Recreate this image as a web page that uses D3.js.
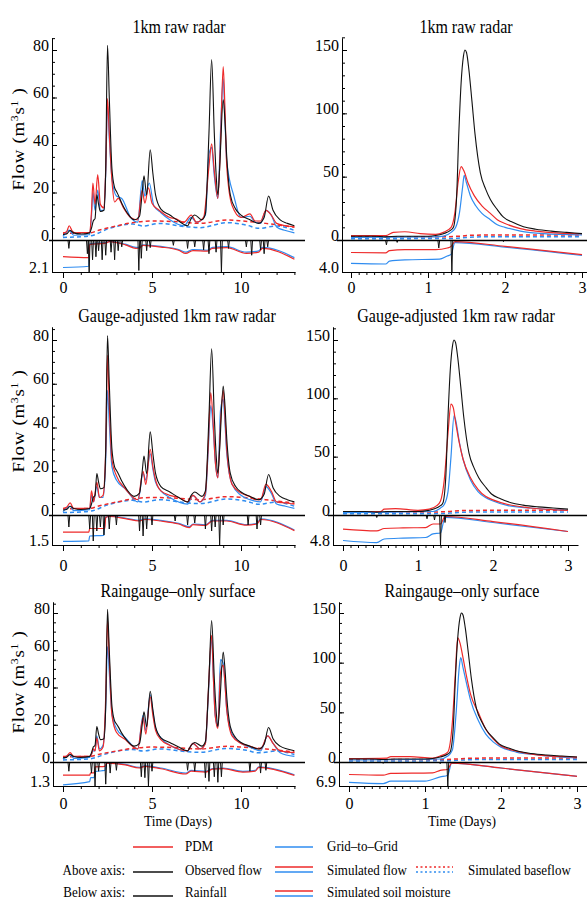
<!DOCTYPE html>
<html>
<head>
<meta charset="utf-8">
<script src="https://cdnjs.cloudflare.com/ajax/libs/d3/7.8.5/d3.min.js"></script>
<style>
  body { margin: 0; background: #fff; }
  svg { display: block; }
  text { font-family: "Liberation Serif", "Times New Roman", serif; fill: #000; }
</style>
</head>
<body>
<div id="chart"></div>
<script>
// ---- data: [time in days, value] ----
// observed flow (same gauge for every row)
const obsLeft = [[0,2.3],[0.2,2.5],[0.4,4],[0.6,3],[1.0,2.5],[1.5,3],[1.6,5],[1.7,8],[1.8,9],[1.9,19],[2.0,15],[2.1,12],[2.3,12.5],[2.4,30],[2.5,82],[2.6,60],[2.75,30],[2.9,22],[3.0,20.5],[3.1,19],[3.3,15.5],[3.6,11.5],[4.0,8.5],[4.3,10],[4.45,20],[4.55,27],[4.7,19],[4.9,38],[5.05,28],[5.2,19],[5.5,13],[6.0,10.5],[6.5,8],[7.0,6],[7.2,9],[7.4,10.5],[7.8,8.5],[8.0,11],[8.2,45],[8.35,76],[8.5,45],[8.6,28],[8.7,19],[8.8,30],[9.0,59],[9.1,50],[9.2,35],[9.4,19],[9.7,13],[10.0,10.5],[10.5,8.5],[11.0,7],[11.3,9.5],[11.55,18.5],[11.8,12.5],[12.2,8.5],[12.6,7],[13.0,6]];
const obsRight = [[0,3],[0.3,3],[0.45,2.5],[0.6,3],[1.0,3],[1.1,3.5],[1.2,5],[1.3,8],[1.33,10],[1.37,32],[1.4,84],[1.43,124],[1.46,145],[1.48,150],[1.5,148],[1.53,135],[1.57,110],[1.61,84],[1.68,53],[1.75,40],[1.81,32],[1.9,24],[1.98,18],[2.1,14],[2.24,10.5],[2.4,8.5],[2.6,7],[2.8,6],[3.0,5]];

// simulated baseflow
const pdmBaseLeft = [[0,2.8],[1.5,3],[2.05,4.2],[3.0,5.9],[3.9,7.3],[5.0,8],[6.4,7.7],[7.7,7],[9.2,8.4],[10.1,8],[11.4,7],[13,5.4]];
const g2gBaseLeft = [[0,1.1],[1.5,1.7],[2.6,4.9],[3.9,6.7],[4.5,5.9],[5.4,7],[6.9,5.6],[7.7,5.2],[9.2,7.3],[10.3,6.3],[11.0,4.9],[12.0,5.9],[13,4]];
const pdmBaseRight = [[0,2.5],[1.2,2.5],[1.4,3],[1.6,3.8],[2.0,4],[3.0,4]];
const g2gBaseRight = [[0,1],[1.3,1.2],[1.5,2],[1.7,2.5],[2.0,2.5],[3.0,2.5]];

// row 1: 1km raw radar
const pdmFlowL1 = [[0,3],[0.2,3.5],[0.35,6],[0.5,4],[0.7,3],[1.5,3.2],[1.6,12],[1.68,24],[1.8,15],[1.95,27.5],[2.1,15],[2.3,13.5],[2.4,30],[2.5,59.5],[2.6,45],[2.75,25],[2.9,16],[3.1,17.5],[3.4,13.5],[3.8,9.5],[4.2,8.5],[4.45,21],[4.6,15.5],[4.8,22],[5.0,15.5],[5.4,12.5],[6.0,9.5],[6.3,9],[6.8,7.5],[7.2,10.5],[7.5,7.5],[7.9,9.5],[8.2,31],[8.35,40.5],[8.5,29],[8.7,17.5],[8.85,41],[9.0,73],[9.1,55],[9.2,31],[9.5,14.5],[10.0,9.5],[10.5,11],[10.8,8],[11.1,8],[11.4,12.5],[11.7,10.5],[12.0,7],[12.5,6],[13.0,5.5]];
const g2gFlowL1 = [[0,1.5],[0.35,4.2],[0.6,2],[1.5,2.2],[1.6,10],[1.68,20],[1.8,12.5],[1.95,21],[2.1,12.5],[2.3,12.5],[2.4,28],[2.5,57],[2.6,43],[2.75,26],[3.0,18.5],[3.3,17.5],[3.8,9.5],[4.2,7.5],[4.45,25],[4.6,18.5],[4.85,24],[5.1,14.5],[5.5,11.5],[6.0,8.5],[6.8,6],[7.2,9.5],[7.5,7.5],[8.0,10.5],[8.2,36],[8.35,39],[8.5,27],[8.7,17.5],[8.85,46],[9.0,68],[9.1,50],[9.2,33],[9.6,18.5],[10.0,9.5],[10.5,10],[10.8,7.5],[11.1,7],[11.4,12.5],[11.7,10.5],[12.0,5.5],[12.5,4],[13.0,3]];
const pdmSoilL1 = [[0,0.52],[1.45,0.55],[1.5,0.14],[2.4,0.1],[2.6,0.05],[3.5,0.15],[4.1,0.26],[4.3,0.25],[4.5,0.17],[5.5,0.22],[6.5,0.32],[6.9,0.42],[7.3,0.33],[8.1,0.35],[8.4,0.26],[9.2,0.24],[10.3,0.42],[11.0,0.38],[11.2,0.26],[13,0.6]];
const g2gSoilL1 = [[0,0.86],[1.45,0.82],[1.5,0.12],[2.4,0.08],[2.6,0.04],[3.5,0.13],[4.1,0.23],[4.3,0.22],[4.5,0.15],[5.5,0.2],[6.5,0.3],[6.9,0.38],[7.3,0.3],[8.1,0.32],[8.4,0.23],[9.2,0.21],[10.3,0.38],[11.0,0.34],[11.2,0.23],[13,0.55]];
const rainL1 = [[0.33,0.55],[1.37,0.9],[1.47,2.1],[1.66,1.3],[1.85,1.1],[2.0,0.7],[2.2,1.3],[2.4,1.0],[2.7,0.8],[2.9,1.3],[3.1,0.7],[3.3,0.45],[4.26,2.0],[4.4,1.2],[4.7,0.7],[4.9,0.5],[6.2,0.35],[7.0,0.55],[7.4,0.45],[7.9,0.65],[8.2,0.9],[8.6,0.8],[8.9,2.1],[9.3,0.55],[10.3,0.45],[10.6,1.0],[11.1,0.65],[11.3,0.9],[11.5,0.45]];

const pdmFlowR1 = [[0,3.5],[0.45,3.5],[0.55,6],[0.7,6.5],[0.9,5],[1.1,4.5],[1.2,6],[1.3,10],[1.35,22],[1.39,45],[1.43,58],[1.47,54],[1.52,45],[1.6,35],[1.7,27],[1.81,21],[1.9,16],[2.0,13],[2.2,9],[2.4,7],[2.7,5.5],[3.0,5]];
const g2gFlowR1 = [[0,2],[1.1,2.5],[1.2,3],[1.3,6],[1.36,10],[1.41,22],[1.45,42],[1.47,51],[1.5,45],[1.55,35],[1.62,27],[1.7,21],[1.81,16],[1.9,12],[2.0,10],[2.2,7],[2.5,5],[3.0,4]];
const pdmSoilR1 = [[0,0.39],[0.45,0.4],[0.5,0.33],[0.7,0.3],[1.1,0.3],[1.25,0.25],[1.3,0.2],[1.35,0.05],[2.0,0.2],[3.0,0.46]];
const g2gSoilR1 = [[0,0.73],[0.45,0.75],[0.5,0.66],[0.7,0.62],[1.15,0.6],[1.25,0.5],[1.3,0.45],[1.35,0.08],[2.0,0.22],[3.0,0.48]];
const rainR1 = [[0.46,0.6],[0.6,0.3],[1.14,1.0],[1.31,4.0],[1.98,0.2]];

// row 2: gauge-adjusted 1km raw radar
const pdmFlowL2 = [[0,3],[0.2,3.5],[0.4,5.5],[0.6,3],[1.5,3],[1.6,11],[1.72,6],[1.9,15],[2.05,8],[2.25,9],[2.4,30],[2.5,73],[2.6,50],[2.75,25],[3.0,18],[3.5,12],[4.2,7],[4.5,20],[4.65,14],[4.9,30],[5.05,22],[5.2,16],[5.5,11],[6.0,9],[6.5,8],[7.0,6],[7.3,9],[7.7,6],[8.0,10],[8.15,30],[8.3,56],[8.45,40],[8.55,25],[8.7,17],[8.85,42],[9.0,57],[9.1,45],[9.2,30],[9.5,14],[10.0,10],[10.5,8.5],[10.8,7],[11.1,7],[11.4,14],[11.7,11],[12.0,6],[12.5,5.5],[13.0,5]];
const g2gFlowL2 = [[0,1.5],[0.4,4],[0.6,2],[1.5,2.5],[1.6,9],[1.72,6],[1.9,13],[2.05,8],[2.25,8],[2.4,25],[2.5,57],[2.6,42],[2.75,22],[3.0,16],[3.5,12],[4.2,6],[4.5,19],[4.65,16],[4.9,28],[5.05,21],[5.2,15],[5.5,11],[6.0,8],[7.0,5],[7.3,9],[7.7,6],[8.0,9],[8.15,28],[8.3,50],[8.45,38],[8.55,25],[8.7,17],[8.85,48],[9.0,53],[9.1,42],[9.2,28],[9.5,14],[10.0,9],[10.5,7],[11.1,6],[11.4,13],[11.7,10],[12.0,5],[12.5,4],[13.0,3]];
const pdmSoilL2 = [[0,0.57],[1.45,0.57],[1.5,0.45],[2.35,0.45],[2.4,0.08],[2.6,0.05],[3.5,0.12],[4.3,0.2],[4.6,0.15],[5.5,0.2],[6.5,0.3],[7.1,0.42],[7.3,0.32],[8.0,0.35],[8.4,0.2],[9.2,0.2],[10.3,0.34],[10.9,0.3],[11.1,0.15],[13,0.52]];
const g2gSoilL2 = [[0,0.88],[1.45,0.86],[1.5,0.7],[2.3,0.68],[2.35,0.1],[2.6,0.04],[3.5,0.1],[4.3,0.18],[4.6,0.13],[5.5,0.18],[6.5,0.28],[7.1,0.39],[7.3,0.3],[8.0,0.33],[8.4,0.18],[9.2,0.18],[10.3,0.32],[10.9,0.28],[11.1,0.13],[13,0.5]];
const rainL2 = [[0.33,0.6],[1.5,0.7],[1.7,1.3],[1.9,0.8],[2.1,0.6],[2.3,1.0],[2.6,0.7],[3.0,0.5],[4.3,0.8],[4.5,1.05],[4.7,0.7],[5.0,0.5],[6.3,0.3],[7.0,0.5],[7.4,0.4],[8.0,0.7],[8.35,0.8],[8.55,0.6],[8.8,1.5],[9.0,0.5],[10.4,0.5],[10.9,0.7],[11.1,0.5]];

const pdmFlowR2 = [[0,3],[0.5,3],[0.55,5],[0.7,5.5],[1.0,4],[1.15,5],[1.25,8],[1.3,12],[1.35,30],[1.4,70],[1.44,95],[1.47,92],[1.5,80],[1.55,62],[1.6,48],[1.7,32],[1.8,22],[1.9,16],[2.0,13],[2.2,9],[2.5,6],[3.0,4]];
const g2gFlowR2 = [[0,2],[1.2,3],[1.3,6],[1.35,9],[1.4,20],[1.44,50],[1.48,85],[1.5,82],[1.55,63],[1.6,48],[1.7,30],[1.8,20],[1.9,15],[2.0,12],[2.2,8],[2.5,6],[3.0,4]];
const pdmSoilR2 = [[0,0.47],[0.45,0.53],[0.55,0.45],[0.8,0.43],[1.1,0.42],[1.2,0.3],[1.3,0.3],[1.36,0.05],[2.0,0.22],[3.0,0.55]];
const g2gSoilR2 = [[0,0.85],[0.45,0.92],[0.55,0.8],[0.8,0.77],[1.1,0.75],[1.2,0.63],[1.3,0.6],[1.36,0.08],[2.0,0.25],[3.0,0.55]];
const rainR2 = [[0.45,0.4],[1.12,0.6],[1.22,0.8],[1.3,4.8],[1.36,1.2]];

// row 3: raingauge-only surface
const pdmFlowL3 = [[0,3],[0.2,3.2],[0.4,5],[0.6,3],[1.5,3],[1.6,4],[1.7,7],[1.8,6],[1.9,13],[2.05,6],[2.25,8],[2.4,35],[2.5,76],[2.6,55],[2.75,25],[3.0,16],[3.5,12],[4.2,7],[4.5,24],[4.65,15],[4.9,35],[5.05,25],[5.2,17],[5.5,12],[6.0,9],[7.0,6],[7.3,10],[7.7,7],[8.0,10],[8.15,35],[8.35,68],[8.45,45],[8.55,25],[8.7,18],[8.85,48],[9.0,52],[9.1,42],[9.2,28],[9.5,14],[10.0,10],[10.5,8.5],[11.1,7],[11.5,14],[11.8,10],[12.2,6],[13,5]];
const g2gFlowL3 = [[0,1.5],[0.4,4],[0.6,2],[1.5,2.5],[1.7,6],[1.8,6],[1.9,14],[2.05,7],[2.25,9],[2.4,30],[2.5,62],[2.6,48],[2.75,26],[3.0,18],[3.5,13],[4.2,7],[4.5,25],[4.65,17],[4.9,36],[5.05,27],[5.2,18],[5.5,13],[6.0,9],[7.0,6],[7.3,10],[7.7,7],[8.0,10],[8.15,33],[8.35,66],[8.45,45],[8.55,25],[8.7,19],[8.85,55],[9.0,53],[9.1,42],[9.2,28],[9.5,15],[10.0,10],[10.5,8],[11.1,6],[11.5,14],[11.8,10],[12.2,5],[13,3]];
const pdmSoilL3 = [[0,0.55],[1.5,0.55],[1.55,0.45],[1.75,0.45],[1.8,0.2],[2.35,0.18],[2.45,0.05],[3.5,0.12],[4.3,0.25],[4.6,0.18],[5.5,0.28],[6.9,0.5],[7.2,0.38],[8.0,0.42],[8.4,0.3],[9.0,0.28],[10.1,0.42],[10.8,0.38],[11.0,0.22],[13,0.56]];
const g2gSoilL3 = [[0,0.95],[1.5,0.82],[1.55,0.65],[1.75,0.65],[1.8,0.4],[2.35,0.35],[2.45,0.04],[3.5,0.1],[4.3,0.22],[4.6,0.16],[5.5,0.25],[6.9,0.46],[7.2,0.35],[8.0,0.39],[8.4,0.27],[9.0,0.25],[10.1,0.39],[10.8,0.35],[11.0,0.2],[13,0.53]];
const rainL3 = [[0.33,0.5],[1.6,0.6],[1.8,1.3],[2.0,0.5],[2.4,1.2],[2.65,0.6],[3.0,0.45],[4.4,0.8],[4.6,0.85],[4.8,1.3],[5.0,0.5],[7.0,0.45],[7.4,0.5],[8.0,0.85],[8.2,1.05],[8.5,0.8],[8.7,1.1],[8.9,0.8],[10.5,0.5],[11.1,0.6],[11.4,0.45]];

const pdmFlowR3 = [[0,3.5],[0.5,4],[0.55,5.5],[0.8,5.5],[1.1,4],[1.2,6],[1.3,10],[1.36,40],[1.4,90],[1.43,125],[1.46,120],[1.5,105],[1.55,85],[1.6,68],[1.7,50],[1.8,33],[1.9,23],[2.0,16],[2.2,11],[2.5,7],[3.0,5]];
const g2gFlowR3 = [[0,2],[1.2,3],[1.3,6],[1.36,12],[1.41,50],[1.45,95],[1.47,105],[1.5,95],[1.55,78],[1.6,62],[1.7,42],[1.8,28],[1.9,20],[2.0,15],[2.2,10],[2.5,7],[3.0,4]];
const pdmSoilR3 = [[0,0.52],[0.45,0.55],[0.55,0.47],[1.1,0.45],[1.2,0.35],[1.3,0.3],[1.35,0.05],[2.0,0.25],[3.0,0.6]];
const g2gSoilR3 = [[0,0.85],[0.45,0.9],[0.55,0.8],[1.0,0.8],[1.2,0.62],[1.3,0.55],[1.35,0.05],[2.0,0.25],[3.0,0.6]];
const rainR3 = [[0.45,0.4],[1.2,0.5],[1.3,6.9]];

// tick labels
const titles = ["1km raw radar", "Gauge-adjusted 1km raw radar", "Raingauge\u2013only surface"];
const leftFlowTicks = [0, 20, 40, 60, 80];
const rightFlowTicks = [0, 50, 100, 150];
const leftDayTicks = [0, 5, 10];
const rightDayTicks = [0, 1, 2, 3];
const rainMaxima = [2.1, 4.0, 1.5, 4.8, 1.3, 6.9];
const rainLabels = ["2.1", "4.0", "1.5", "4.8", "1.3", "6.9"];

const red = "#ee2a2a", blue = "#2f8cf0";

const svg = d3.select("#chart").append("svg")
  .attr("width", 587).attr("height", 901);

// text with a slight vertical stretch like the original scan
function label(g, x, y, str, size, anchor, sy) {
  return g.append("text")
    .attr("transform", `translate(${x},${y}) scale(1,${sy})`)
    .attr("text-anchor", anchor)
    .style("font-size", size + "px")
    .text(str);
}

// row geometry (pixels)
const rows = [
  { zero: 240, top: 38, refPx: 50, bottom: 272, tickOff: 15.5, titleY: 33 },
  { zero: 515, top: 327, refPx: 340, bottom: 545, tickOff: 20, titleY: 322 },
  { zero: 762, top: 602, refPx: 613, bottom: 786, tickOff: 17.5, titleY: 597 }
];
const leftCols = [
  { axisX: 52, x0: 63, xRef: 241, endX: 295, titleX: 179 },
  { axisX: 52, x0: 63, xRef: 241, endX: 295, titleX: 177 },
  { axisX: 53, x0: 63, xRef: 241, endX: 295, titleX: 178 }
];
const rightCols = [
  { axisX: 342, x0: 351, xRef: 582, endX: 587, titleX: 466 },
  { axisX: 333, x0: 343, xRef: 568, endX: 578, titleX: 456 },
  { axisX: 339, x0: 349, xRef: 577, endX: 587, titleX: 462 }
];

const panels = [
  { r: 0, c: leftCols[0], left: true, obs: obsLeft, pdm: pdmFlowL1, g2g: g2gFlowL1, pdmB: pdmBaseLeft, g2gB: g2gBaseLeft, pdmS: pdmSoilL1, g2gS: g2gSoilL1, rain: rainL1, k: 0 },
  { r: 0, c: rightCols[0], left: false, obs: obsRight, pdm: pdmFlowR1, g2g: g2gFlowR1, pdmB: pdmBaseRight, g2gB: g2gBaseRight, pdmS: pdmSoilR1, g2gS: g2gSoilR1, rain: rainR1, k: 1 },
  { r: 1, c: leftCols[1], left: true, obs: obsLeft, pdm: pdmFlowL2, g2g: g2gFlowL2, pdmB: pdmBaseLeft, g2gB: g2gBaseLeft, pdmS: pdmSoilL2, g2gS: g2gSoilL2, rain: rainL2, k: 2 },
  { r: 1, c: rightCols[1], left: false, obs: obsRight, pdm: pdmFlowR2, g2g: g2gFlowR2, pdmB: pdmBaseRight, g2gB: g2gBaseRight, pdmS: pdmSoilR2, g2gS: g2gSoilR2, rain: rainR2, k: 3 },
  { r: 2, c: leftCols[2], left: true, obs: obsLeft, pdm: pdmFlowL3, g2g: g2gFlowL3, pdmB: pdmBaseLeft, g2gB: g2gBaseLeft, pdmS: pdmSoilL3, g2gS: g2gSoilL3, rain: rainL3, k: 4 },
  { r: 2, c: rightCols[2], left: false, obs: obsRight, pdm: pdmFlowR3, g2g: g2gFlowR3, pdmB: pdmBaseRight, g2gB: g2gBaseRight, pdmS: pdmSoilR3, g2gS: g2gSoilR3, rain: rainR3, k: 5 }
];

panels.forEach(p => drawPanel(p));

function drawPanel(p) {
  const row = rows[p.r], col = p.c;
  const g = svg.append("g");

  // x: days
  const x = d3.scaleLinear().domain([0, p.left ? 10 : 3]).range([col.x0, col.xRef]);
  x.domain([x.invert(col.axisX), x.invert(col.endX)]).range([col.axisX, col.endX]);

  // y: flow above the zero line
  const y = d3.scaleLinear().domain([0, p.left ? 80 : 150]).range([row.zero, row.refPx]);
  y.domain([0, y.invert(row.top)]).range([row.zero, row.top]);

  // below the zero line: rainfall and soil moisture (as fraction of depth)
  const yr = d3.scaleLinear().domain([0, rainMaxima[p.k]]).range([row.zero, row.bottom]);
  const ysm = d3.scaleLinear().domain([0, 1]).range([row.zero, row.bottom]);

  const clipUp = "cu" + p.k, clipDn = "cd" + p.k;
  svg.append("clipPath").attr("id", clipUp).append("rect")
    .attr("x", col.axisX).attr("y", row.top - 4).attr("width", col.endX - col.axisX).attr("height", row.zero - row.top + 4);
  svg.append("clipPath").attr("id", clipDn).append("rect")
    .attr("x", col.axisX).attr("y", row.zero).attr("width", col.endX - col.axisX).attr("height", row.bottom - row.zero);

  const flowLine = d3.line().x(d => x(d[0])).y(d => y(d[1])).curve(d3.curveMonotoneX);
  const soilLine = d3.line().x(d => x(d[0])).y(d => ysm(d[1])).curve(d3.curveMonotoneX);

  const up = g.append("g").attr("clip-path", `url(#${clipUp})`);
  up.append("path").datum(p.g2gB).attr("d", flowLine).attr("fill", "none")
    .attr("stroke", blue).attr("stroke-width", 1.5).attr("stroke-dasharray", "4,3");
  up.append("path").datum(p.pdmB).attr("d", flowLine).attr("fill", "none")
    .attr("stroke", red).attr("stroke-width", 1.5).attr("stroke-dasharray", "4,3");
  up.append("path").datum(p.g2g).attr("d", flowLine).attr("fill", "none")
    .attr("stroke", blue).attr("stroke-width", 1.2);
  up.append("path").datum(p.pdm).attr("d", flowLine).attr("fill", "none")
    .attr("stroke", red).attr("stroke-width", 1.2);
  up.append("path").datum(p.obs).attr("d", flowLine).attr("fill", "none")
    .attr("stroke", "#111").attr("stroke-width", 1.1);

  const dn = g.append("g").attr("clip-path", `url(#${clipDn})`);
  dn.append("path").datum(p.g2gS).attr("d", soilLine).attr("fill", "none")
    .attr("stroke", blue).attr("stroke-width", 1.2);
  dn.append("path").datum(p.pdmS).attr("d", soilLine).attr("fill", "none")
    .attr("stroke", red).attr("stroke-width", 1.2);
  // rainfall hangs down from the zero line as narrow spikes
  const w = p.left ? 0.05 : 0.012;
  dn.selectAll("path.rain").data(p.rain).join("path").attr("class", "rain")
    .attr("d", d => `M${x(d[0] - w)},${row.zero}L${x(d[0])},${yr(d[1])}L${x(d[0] + w)},${row.zero}`)
    .attr("fill", "none").attr("stroke", "#111").attr("stroke-width", 1);

  // zero line
  g.append("line")
    .attr("x1", col.axisX - (p.left ? 3 : 5)).attr("x2", p.left ? 305 : 587)
    .attr("y1", row.zero + 0.5).attr("y2", row.zero + 0.5)
    .attr("stroke", "#000").attr("stroke-width", 1.3);

  // y axes
  const minorY = p.left ? d3.range(0, 86, 5) : d3.range(0, 161, 10);
  g.append("g").attr("transform", `translate(${col.axisX},0)`)
    .call(d3.axisLeft(y).tickValues(minorY).tickSize(-3).tickSizeOuter(0).tickFormat(""));
  const ay = g.append("g").attr("transform", `translate(${col.axisX},0)`)
    .call(d3.axisLeft(y).tickValues(p.left ? leftFlowTicks : rightFlowTicks).tickSize(-5).tickSizeOuter(0).tickPadding(3).tickFormat(d3.format("d")));
  const ar = g.append("g").attr("transform", `translate(${col.axisX},0)`)
    .call(d3.axisLeft(yr).tickValues([rainMaxima[p.k]]).tickFormat(() => rainLabels[p.k]).tickSize(-5).tickSizeOuter(0).tickPadding(3));
  [ay, ar].forEach(a => a.selectAll("text").attr("dy", null)
    .style("font-size", "16px").style("font-family", '"Liberation Serif", serif'));

  // x axis at the bottom of the rainfall strip
  const minorX = p.left ? d3.range(0, 14, 1) : d3.range(0, 31, 1).map(v => v / 10);
  g.append("g").attr("transform", `translate(0,${row.bottom})`)
    .call(d3.axisBottom(x).tickValues(minorX).tickSize(3).tickSizeOuter(0).tickFormat(""));
  g.append("g").attr("transform", `translate(0,${row.bottom})`)
    .call(d3.axisBottom(x).tickValues(p.left ? leftDayTicks : rightDayTicks).tickSize(6).tickSizeOuter(0).tickFormat(d3.format("d")))
    .call(a => a.select(".domain").remove())
    .selectAll("text").attr("y", row.tickOff + 5.5).attr("dy", null)
    .style("font-size", "16px").style("font-family", '"Liberation Serif", serif');

  // title
  label(g, col.titleX, row.titleY, titles[p.r], 16, "middle", 1.12);

  if (p.left) {
    const cy = (row.top + row.zero) / 2;
    const t = g.append("text")
      .attr("transform", `translate(24,${cy}) rotate(-90) scale(1.18,1)`)
      .attr("text-anchor", "middle").style("font-size", "16px").style("letter-spacing", "0.6px");
    t.append("tspan").text("Flow (m");
    t.append("tspan").attr("dy", -6).style("font-size", "10px").text("3");
    t.append("tspan").attr("dy", 6).text("s");
    t.append("tspan").attr("dy", -6).style("font-size", "10px").text("1");
    t.append("tspan").attr("dy", 6).text(" )");
  }
  if (p.r === 2) {
    label(g, col.titleX, 826, "Time (Days)", 13.5, "middle", 1.12);
  }
}

// ---- legend ----
const lg = svg.append("g");
function legLine(x1, x2, yy, color, dash) {
  lg.append("line").attr("x1", x1).attr("x2", x2).attr("y1", yy).attr("y2", yy)
    .attr("stroke", color).attr("stroke-width", 1.4).attr("stroke-dasharray", dash || null);
}
legLine(133, 173, 847, red);
label(lg, 185, 851, "PDM", 13, "start", 1.12);
legLine(275, 313, 847, blue);
label(lg, 327, 851, "Grid\u2013to\u2013Grid", 13, "start", 1.12);

label(lg, 125, 875, "Above axis:", 13, "end", 1.12);
legLine(133, 173, 872, "#111");
label(lg, 185, 875, "Observed flow", 13, "start", 1.12);
legLine(275, 313, 867, red);
legLine(275, 313, 872, blue);
label(lg, 327, 875, "Simulated flow", 13, "start", 1.12);
legLine(416, 453, 867, red, "2,2.5");
legLine(416, 453, 872, blue, "2,2.5");
label(lg, 468, 875, "Simulated baseflow", 13, "start", 1.12);

label(lg, 125, 897, "Below axis:", 13, "end", 1.12);
legLine(133, 173, 896, "#111");
label(lg, 185, 897, "Rainfall", 13, "start", 1.12);
legLine(275, 313, 891, red);
legLine(275, 313, 896, blue);
label(lg, 327, 897, "Simulated soil moisture", 13, "start", 1.12);
</script>
</body>
</html>
